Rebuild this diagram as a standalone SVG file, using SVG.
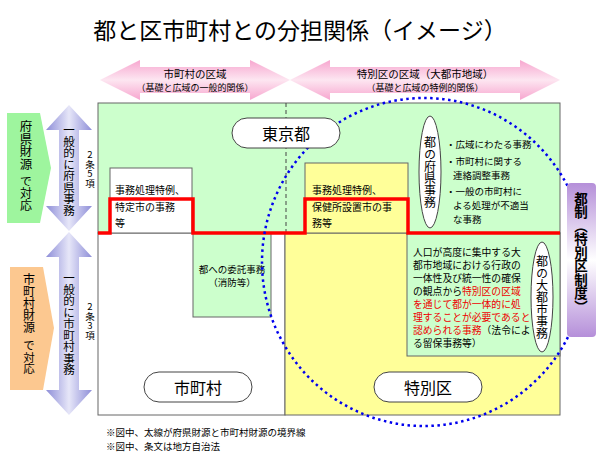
<svg xmlns="http://www.w3.org/2000/svg" width="610" height="456" viewBox="0 0 610 456">
<defs>
<linearGradient id="pk" x1="0" y1="0" x2="0" y2="1"><stop offset="0" stop-color="#f7a6cf"/><stop offset="0.5" stop-color="#fde6f1"/><stop offset="1" stop-color="#f7a6cf"/></linearGradient>
<linearGradient id="pu" x1="0" y1="0" x2="1" y2="0"><stop offset="0" stop-color="#8e8ed8"/><stop offset="0.5" stop-color="#e6e6f8"/><stop offset="1" stop-color="#8e8ed8"/></linearGradient>
<linearGradient id="vi" x1="0" y1="0" x2="0" y2="1"><stop offset="0" stop-color="#b58fd9"/><stop offset="0.5" stop-color="#ffffff"/><stop offset="1" stop-color="#b58fd9"/></linearGradient>
<style>
text{font-family:"Noto Sans CJK JP","Liberation Sans",sans-serif;fill:#000}
.s{font-size:10px}.m{font-size:11px}.v{writing-mode:vertical-rl;text-orientation:upright;font-size:11.5px}
.box{stroke:#666;stroke-width:1}
.pill{fill:#fff;stroke:#444;stroke-width:1}
.r{fill:#e00}
</style>
</defs>
<text x="300" y="39" text-anchor="middle" style="font-size:23px">都と区市町村との分担関係（イメージ）</text>
<g id="arrows-top">
<polygon points="100,80 140,60 140,67 250,67 250,60 290,80 250,100 250,93 140,93 140,100" fill="url(#pk)"/>
<polygon points="290,80 330,60 330,67 520,67 520,60 560,80 520,100 520,93 330,93 330,100" fill="url(#pk)"/>
<text x="195" y="78" text-anchor="middle" style="font-size:10.5px">市町村の区域</text>
<text x="195" y="91" text-anchor="middle" style="font-size:9px">（基礎と広域の一般的関係）</text>
<text x="425" y="78" text-anchor="middle" style="font-size:10.5px">特別区の区域（大都市地域）</text>
<text x="425" y="91" text-anchor="middle" style="font-size:9px">（基礎と広域の特例的関係）</text>
</g>
<g id="left">
<polygon points="7,113 40,113 51,168 40,223 7,223" fill="#9ef59e"/>
<text x="26" y="120" class="v" style="font-size:12.5px">府県財源</text>
<text x="26" y="175" class="v" style="font-size:12px">で対応</text>
<polygon points="10,267 43,267 54,328 43,390 10,390" fill="#fcc890"/>
<text x="29" y="273" class="v" style="font-size:12px">市町村財源</text>
<text x="29" y="340" class="v" style="font-size:11.5px">で対応</text>
<polygon points="69,105 92,130 79,130 79,206 92,206 69,231 46,206 59,206 59,130 46,130" fill="url(#pu)"/>
<text x="69" y="124" class="v">一般的に府県事務</text>
<polygon points="69,232 92,257 79,257 79,390 92,390 69,415 46,390 59,390 59,257 46,257" fill="url(#pu)"/>
<text x="69" y="272" class="v">一般的に市町村事務</text>
<text x="90" y="150" class="v" style="font-size:9.5px">2条5項</text>
<text x="90" y="302" class="v" style="font-size:9.5px">2条3項</text>
</g>
<g id="main">
<rect x="98" y="103" width="462" height="130" fill="#ccffcc" class="box"/>
<rect x="98" y="233" width="187" height="182" fill="#fff" class="box"/>
<rect x="285" y="233" width="275" height="182" fill="#ffff99" class="box"/>
<line x1="286" y1="103" x2="286" y2="233" stroke="#444" stroke-dasharray="4,3"/>
</g>
<g id="n-tokubetsu-rei"><rect x="110" y="168" width="82" height="65" fill="#fff" class="box"/>
<text x="115" y="194" class="s">事務処理特例、</text><text x="115" y="211" class="s">特定市の事務</text><text x="115" y="227" class="s">等</text></g>
<g id="n-hoken"><rect x="305" y="163" width="103" height="70" fill="#ffff99" class="box"/>
<text x="312" y="194" class="s">事務処理特例、</text><text x="312" y="211" class="s">保健所設置市の事</text><text x="312" y="227" class="s">務等</text></g>
<g id="n-itaku"><rect x="193" y="233" width="78" height="84" fill="#ccffcc" class="box"/>
<text x="232" y="273" text-anchor="middle" style="font-size:9.5px">都への委託事務</text><text x="232" y="286" text-anchor="middle" style="font-size:9.5px">（消防等）</text></g>
<g id="n-daitoshi"><rect x="407" y="233" width="153" height="123" fill="#ccffcc" class="box"/>
<g style="font-size:9.8px">
<text x="413" y="256">人口が高度に集中する大</text>
<text x="413" y="269">都市地域における行政の</text>
<text x="413" y="282">一体性及び統一性の確保</text>
<text x="413" y="295">の観点から<tspan class="r">特別区の区域</tspan></text>
<text x="413" y="308" class="r">を通じて都が一体的に処</text>
<text x="413" y="321" class="r">理することが必要であると</text>
<text x="413" y="334"><tspan class="r">認められる事務</tspan>（法令によ</text>
<text x="413" y="347">る留保事務等）</text></g>
<ellipse cx="542" cy="297" rx="11" ry="55" class="pill"/>
<text x="542" y="255" class="v" style="font-size:12px">都の大都市事務</text></g>
<g id="n-fuken"><ellipse cx="430" cy="172" rx="11" ry="56" class="pill"/>
<text x="430" y="136" class="v" style="font-size:12px">都の府県事務</text>
<g style="font-size:9.5px"><text x="446" y="148">・広域にわたる事務</text><text x="446" y="165">・市町村に関する</text><text x="453" y="179">連絡調整事務</text><text x="446" y="195">・一般の市町村に</text><text x="453" y="209">よる処理が不適当</text><text x="453" y="223">な事務</text></g></g>
<g id="connectors">
<polyline points="98,233 110,233 110,199 193,199 193,233 305,233 305,199 408,199 408,233 560,233" fill="none" stroke="#f00" stroke-width="3.5"/>
<ellipse cx="424" cy="262" rx="162" ry="164" fill="none" stroke="#0000ee" stroke-width="2.5" stroke-dasharray="2.5,3.5"/>
</g>
<g id="n-tokyo"><rect x="232" y="118" width="108" height="30" rx="15" class="pill"/><text x="286" y="140" text-anchor="middle" style="font-size:16px">東京都</text></g>
<g id="n-shichoson"><rect x="144" y="372" width="108" height="30" rx="15" class="pill"/><text x="198" y="394" text-anchor="middle" style="font-size:16px">市町村</text></g>
<g id="n-tokubetsuku"><rect x="374" y="372" width="108" height="30" rx="15" class="pill"/><text x="428" y="394" text-anchor="middle" style="font-size:16px">特別区</text></g>
<g id="n-toseido"><rect x="567" y="183" width="29" height="154" rx="4" fill="url(#vi)"/>
<text x="581" y="192" class="v" style="font-size:13.5px;font-weight:bold;text-orientation:mixed">都制（特別区制度）</text></g>
<text x="106" y="436" style="font-size:9.5px">※図中、太線が府県財源と市町村財源の境界線</text>
<text x="106" y="450" style="font-size:9.5px">※図中、条文は地方自治法</text>
</svg>
